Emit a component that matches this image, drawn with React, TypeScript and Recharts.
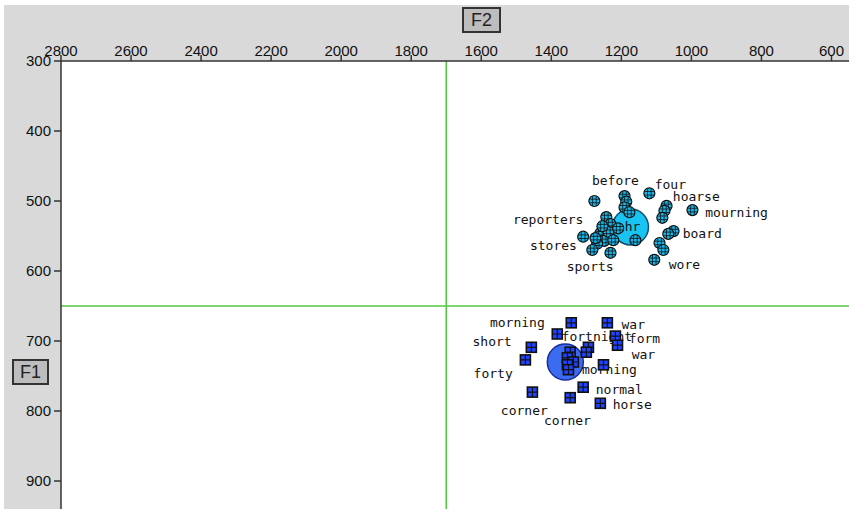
import { ScatterChart, Scatter, XAxis, YAxis, CartesianGrid, ReferenceLine } from "recharts";

// F2 (Hz) / F1 (Hz) of each token
const hrPoints = [
  [1277, 500], [1191, 493], [1186, 501], [1191, 509], [1177, 516], [1120, 489],
  [1071, 507], [1077, 514], [1083, 524], [997, 513], [1243, 523], [1231, 533],
  [1309, 551], [1260, 546], [1249, 557], [1237, 544], [1223, 556], [1269, 561],
  [1283, 570], [1231, 574], [1160, 556], [1051, 543], [1066, 547], [1091, 560],
  [1080, 570], [1106, 584], [1209, 539], [1254, 536], [1274, 553],
];

const uPoints = [
  [1343, 674], [1240, 674], [1383, 690], [1217, 693], [1211, 706], [1457, 709],
  [1294, 709], [1300, 716], [1346, 716], [1474, 727], [1354, 724], [1337, 730],
  [1354, 734], [1351, 741], [1251, 734], [1309, 766], [1454, 773], [1346, 781],
  [1260, 789],
];

const centroids = [
  { word: "hr", f2: 1174, f1: 537, color: "#19c4f2", edge: "#14506e" },
  { word: "u", f2: 1360, f1: 730, color: "#3b6cf0", edge: "#1a2f9a" },
];

const hrWords = [
  { word: "before", f2: 1217, f1: 471 },
  { word: "four", f2: 1060, f1: 476 },
  { word: "hoarse", f2: 986, f1: 494 },
  { word: "mourning", f2: 871, f1: 516 },
  { word: "reporters", f2: 1409, f1: 527 },
  { word: "board", f2: 969, f1: 546 },
  { word: "stores", f2: 1394, f1: 564 },
  { word: "wore", f2: 1020, f1: 590 },
  { word: "sports", f2: 1289, f1: 594 },
];

const uWords = [
  { word: "morning", f2: 1497, f1: 674 },
  { word: "war", f2: 1166, f1: 677 },
  { word: "fortnight", f2: 1270, f1: 694 },
  { word: "form", f2: 1134, f1: 697 },
  { word: "short", f2: 1569, f1: 701 },
  { word: "war", f2: 1137, f1: 719 },
  { word: "morning", f2: 1234, f1: 741 },
  { word: "forty", f2: 1566, f1: 746 },
  { word: "normal", f2: 1206, f1: 769 },
  { word: "horse", f2: 1169, f1: 791 },
  { word: "corner", f2: 1477, f1: 799 },
  { word: "corner", f2: 1354, f1: 814 },
];

const f2Ticks = [2800, 2600, 2400, 2200, 2000, 1800, 1600, 1400, 1200, 1000, 800, 600];
const f1Ticks = [300, 400, 500, 600, 700, 800, 900];

const toRows = (pts: number[][]) => pts.map(([f2, f1]) => ({ f2, f1 }));

const HashCircle = (p: any) => {
  const { cx, cy } = p;
  return (
    <g>
      <circle cx={cx} cy={cy} r={5.5} fill="#18b6e8" stroke="#111" strokeWidth={1.2} />
      <path
        d={`M${cx - 1.8} ${cy - 5}V${cy + 5}M${cx + 1.8} ${cy - 5}V${cy + 5}M${cx - 5} ${cy - 1.8}H${cx + 5}M${cx - 5} ${cy + 1.8}H${cx + 5}`}
        stroke="#111"
        strokeWidth={0.8}
      />
    </g>
  );
};

const GridSquare = (p: any) => {
  const { cx, cy } = p;
  return (
    <g>
      <rect x={cx - 5} y={cy - 5} width={10} height={10} fill="#1e44ff" stroke="#111" strokeWidth={1.6} />
      <path d={`M${cx} ${cy - 5}V${cy + 5}M${cx - 5} ${cy}H${cx + 5}`} stroke="#111" strokeWidth={1.2} />
    </g>
  );
};

const Word = (p: any) => (
  <text
    x={p.cx}
    y={p.cy}
    textAnchor="middle"
    dominantBaseline="central"
    fontFamily="DejaVu Sans Mono"
    fontSize={13}
    fill="#111"
  >
    {p.payload.word}
  </text>
);

const Centroid = (p: any) => (
  <g>
    <circle cx={p.cx} cy={p.cy} r={18} fill={p.payload.color} stroke={p.payload.edge} strokeWidth={1.5} />
    <text x={p.cx + 2} y={p.cy} textAnchor="middle" dominantBaseline="central" fontFamily="DejaVu Sans Mono" fontSize={13} fill="#111">
      {p.payload.word}
    </text>
  </g>
);

const boxStyle: React.CSSProperties = {
  position: "absolute",
  background: "#bdbdbd",
  border: "2px solid #333",
  fontFamily: "Liberation Sans",
  fontSize: 18,
  color: "#222",
  display: "flex",
  alignItems: "center",
  justifyContent: "center",
  boxSizing: "border-box",
};

export default function App() {
  const tick = { fill: "#111", fontSize: 15, fontFamily: "Liberation Sans" };
  return (
    <div style={{ position: "absolute", left: 0, top: 0, width: 849, height: 509, background: "#fff", overflow: "hidden" }}>
      <div style={{ position: "absolute", left: 4, top: 5, right: 0, bottom: 0, background: "#d9d9d9" }} />
      <div style={{ position: "absolute", left: 0, top: 0 }}>
        <ScatterChart width={849} height={509} margin={{ top: 0, right: 0, bottom: 0, left: 0 }}>
          <CartesianGrid horizontal={false} vertical={false} fill="#fff" />
          <XAxis
            type="number"
            dataKey="f2"
            orientation="top"
            domain={[550, 2800]}
            allowDataOverflow
            reversed
            ticks={f2Ticks}
            height={61}
            tick={tick}
            tickSize={6}
            tickMargin={-1}
            stroke="#333"
            strokeWidth={1.5}
          />
          <YAxis
            type="number"
            dataKey="f1"
            domain={[300, 940]}
            allowDataOverflow
            reversed
            ticks={f1Ticks}
            width={61}
            tick={tick}
            tickSize={7}
            tickMargin={3}
            stroke="#333"
            strokeWidth={1.5}
          />
          <ReferenceLine x={1700} stroke="#4fc83c" strokeWidth={1.5} />
          <ReferenceLine y={650} stroke="#4fc83c" strokeWidth={1.5} />
          <Scatter data={centroids} shape={Centroid} isAnimationActive={false} />
          <Scatter data={hrWords} shape={Word} isAnimationActive={false} />
          <Scatter data={uWords} shape={Word} isAnimationActive={false} />
          <Scatter data={toRows(hrPoints)} shape={HashCircle} isAnimationActive={false} />
          <Scatter data={toRows(uPoints)} shape={GridSquare} isAnimationActive={false} />
        </ScatterChart>
      </div>
      <div style={{ ...boxStyle, left: 462, top: 7, width: 39, height: 26 }}>F2</div>
      <div style={{ ...boxStyle, left: 12, top: 359, width: 37, height: 26 }}>F1</div>
    </div>
  );
}
